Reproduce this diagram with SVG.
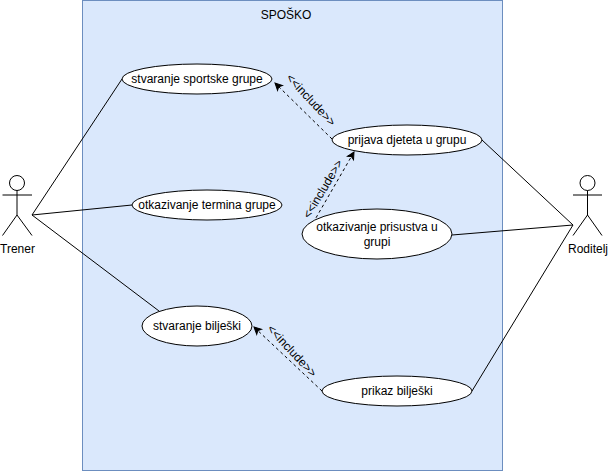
<svg xmlns="http://www.w3.org/2000/svg" width="608" height="471" viewBox="0 0 608 471">
<style>
text{font-family:"Liberation Sans",Arial,sans-serif;font-size:12px;fill:#000;text-anchor:middle}
.uc{fill:#fff;stroke:#000;stroke-width:1}
.ln{fill:none;stroke:#000;stroke-width:1}
.dash{fill:none;stroke:#000;stroke-width:1;stroke-dasharray:3 3}
</style>
<defs>
<marker id="arr" markerUnits="userSpaceOnUse" markerWidth="10" markerHeight="10" refX="7" refY="3.500" orient="auto" overflow="visible"><path d="M0 0L7 3.500L0 7L1.700 3.500Z" fill="#000" stroke="#000" stroke-width="1"/></marker>
</defs>
<rect width="608" height="471" fill="#fff"/>
<g id="system"><rect x="82.500" y="0.500" width="420" height="470" fill="#dae8fc" stroke="#6c8ebf"/><text x="286" y="19">SPOŠKO</text></g>
<g id="connectors">
<path class="ln" d="M32 215L122 79"/>
<path class="ln" d="M32 215L132 205"/>
<path class="ln" d="M32 215L159 311"/>
<path class="ln" d="M482 140L573 225"/>
<path class="ln" d="M452 235L573 225"/>
<path class="ln" d="M472 391L573 225"/>
<path class="dash" marker-end="url(#arr)" d="M332 139L275 83"/>
<path class="dash" marker-end="url(#arr)" d="M313 223L354 152"/>
<path class="dash" marker-end="url(#arr)" d="M322 391L254 327"/>
<text transform="translate(311 100) rotate(47)" y="4">&lt;&lt;include&gt;&gt;</text>
<text transform="translate(323 189) rotate(-59)" y="4">&lt;&lt;include&gt;&gt;</text>
<text transform="translate(292 351) rotate(47)" y="4">&lt;&lt;include&gt;&gt;</text>
</g>
<g id="uc1"><ellipse class="uc" cx="197" cy="79" rx="75" ry="15"/><text x="197" y="83">stvaranje sportske grupe</text></g>
<g id="uc2"><ellipse class="uc" cx="207" cy="205" rx="75" ry="15"/><text x="207" y="209">otkazivanje termina grupe</text></g>
<g id="uc3"><ellipse class="uc" cx="197" cy="326" rx="55" ry="20"/><text x="197" y="330">stvaranje bilješki</text></g>
<g id="uc4"><ellipse class="uc" cx="407" cy="140" rx="75" ry="15"/><text x="407" y="144">prijava djeteta u grupu</text></g>
<g id="uc5"><ellipse class="uc" cx="377" cy="234" rx="75" ry="25"/><text x="377" y="231">otkazivanje prisustva u</text><text x="377" y="246">grupi</text></g>
<g id="uc6"><ellipse class="uc" cx="397" cy="391" rx="75" ry="15"/><text x="397" y="395">prikaz bilješki</text></g>
<g id="trener"><circle class="ln" cx="17" cy="183" r="7.500"/><path class="ln" d="M17 190.500V215M2.500 195H32M17 215L2.500 235.500M17 215L32 235.500"/><text x="17.500" y="253">Trener</text></g>
<g id="roditelj"><circle class="ln" cx="587.500" cy="183" r="7.500"/><path class="ln" d="M587.500 190.500V215M573 195H602M587.500 215L573 235.500M587.500 215L602 235.500"/><text x="588" y="253">Roditelj</text></g>
</svg>
